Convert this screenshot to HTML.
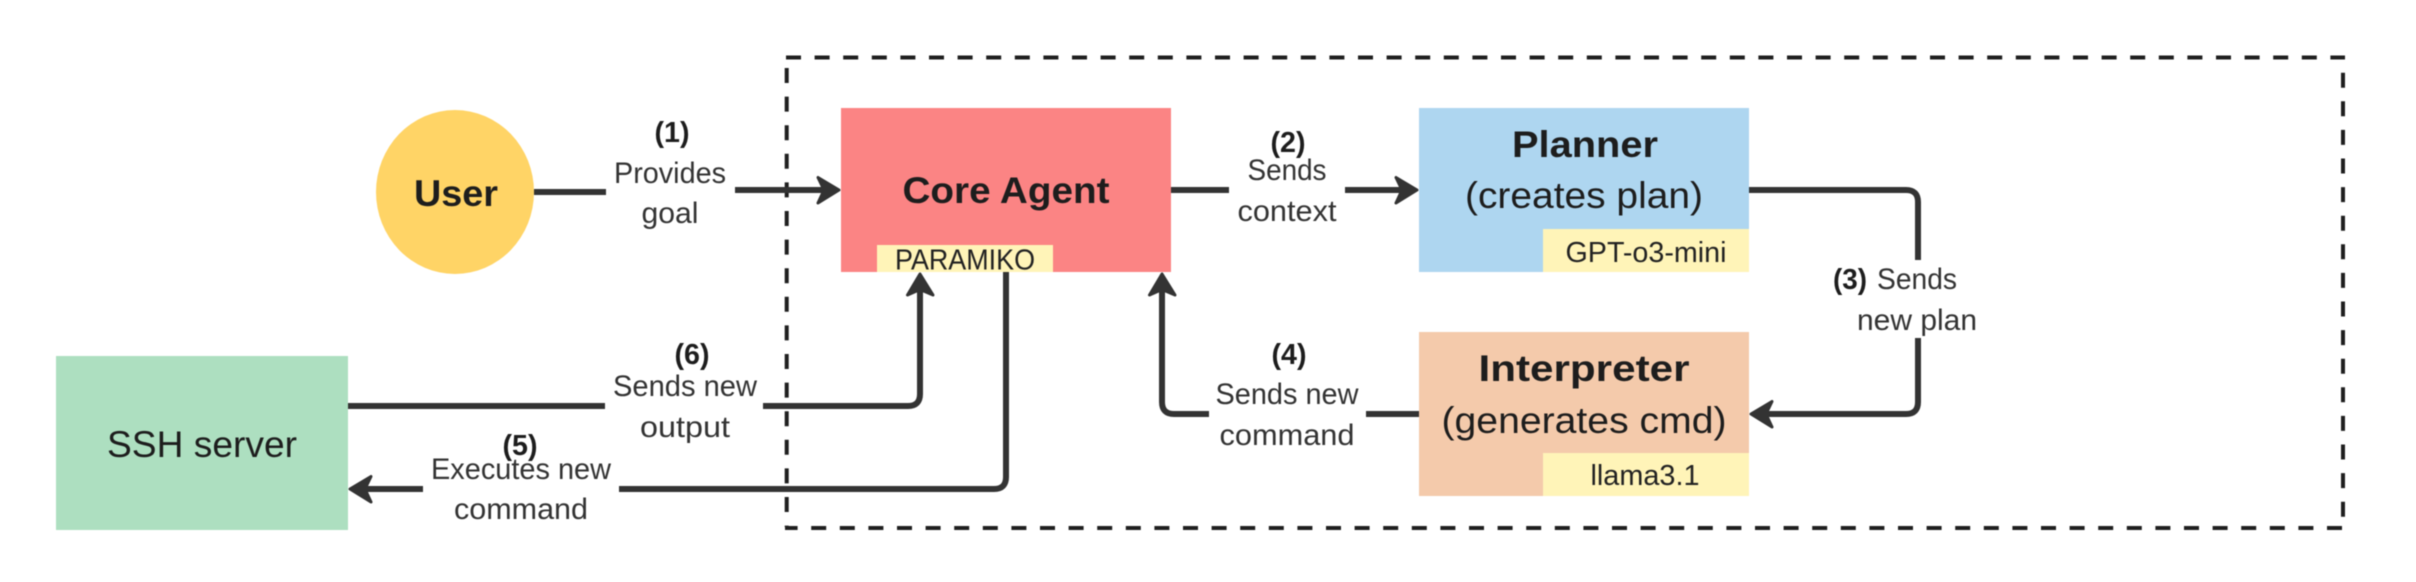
<!DOCTYPE html>
<html lang="en">
<head>
<meta charset="utf-8">
<title>Agent architecture diagram</title>
<style>
html,body{margin:0;padding:0;background:#fff;width:2416px;height:582px;overflow:hidden}
svg{display:block;filter:blur(0.5px)}
text{font-family:"Liberation Sans",sans-serif;text-anchor:middle;fill:#222}
.t{font-size:37px;fill:#1d1d1d}
.b{font-weight:bold}
.l{font-size:29.500px;fill:#333}
.n{font-size:29px;font-weight:bold;fill:#1d1d1d}
.s{font-size:29px;fill:#222}
.c{fill:none;stroke:#333;stroke-width:6;stroke-linejoin:round}
.a{fill:#333;stroke:#333;stroke-width:3;stroke-linejoin:round}
.d{fill:none;stroke:#1f1f1f;stroke-width:4;stroke-dasharray:15 13.600}
</style>
</head>
<body>
<svg width="2416" height="582" viewBox="0 0 2416 582" xmlns="http://www.w3.org/2000/svg">
<rect width="2416" height="582" fill="#fff"/>

<!-- dashed boundary -->
<path class="d" d="M786 57.500H2345"/>
<path class="d" d="M2343 72.700V517"/>
<path class="d" d="M2342 528H785"/>
<path class="d" d="M786.700 68V527"/>

<!-- nodes -->
<ellipse cx="455" cy="192" rx="79" ry="82" fill="#ffd466"/>
<rect x="841" y="108" width="330" height="164" fill="#fb8484"/>
<rect x="877" y="245" width="176" height="27" fill="#fff4b8"/>
<rect x="1419" y="108" width="330" height="164" fill="#aed6f0"/>
<rect x="1543" y="229" width="206" height="43" fill="#fff4b8"/>
<rect x="1419" y="332" width="330" height="164" fill="#f4caab"/>
<rect x="1543" y="453" width="206" height="43" fill="#fff4b8"/>
<rect x="56" y="356" width="292" height="174" fill="#addfc0"/>

<!-- connectors -->
<path class="c" d="M534 192H606"/>
<path class="c" d="M735 190H825"/>
<path class="a" d="M839 190L818 177.500L824 190L818 203Z"/>
<path class="c" d="M1171 190H1229"/>
<path class="c" d="M1345 190H1405"/>
<path class="a" d="M1417 190L1396 177.500L1402 190L1396 203Z"/>
<path class="c" d="M1749 190H1906Q1918 190 1918 202V260"/>
<path class="c" d="M1918 338V402Q1918 414 1906 414H1765"/>
<path class="a" d="M1751 414L1772 401.500L1766 414L1772 427Z"/>
<path class="c" d="M1419 414H1366"/>
<path class="c" d="M1209 414H1174Q1162 414 1162 402V288"/>
<path class="a" d="M1162 274L1149.500 295L1162 289.500L1175 295Z"/>
<path class="c" d="M348 406H605"/>
<path class="c" d="M763 406H908Q920 406 920 394V288"/>
<path class="a" d="M920 274L907.500 295L920 289.500L933 295Z"/>
<path class="c" d="M1006 272V477Q1006 489 994 489H619"/>
<path class="c" d="M423 489H362"/>
<path class="a" d="M350 489L371 476.500L365 489L371 502Z"/>

<!-- node text -->
<text class="t b" x="456" y="206" textLength="84" lengthAdjust="spacingAndGlyphs">User</text>
<text class="t b" x="1006" y="203" textLength="207" lengthAdjust="spacingAndGlyphs">Core Agent</text>
<text class="s" x="965" y="269.500" textLength="140" lengthAdjust="spacingAndGlyphs">PARAMIKO</text>
<text class="t b" x="1585" y="157" textLength="146" lengthAdjust="spacingAndGlyphs">Planner</text>
<text class="t" x="1584" y="208" textLength="238" lengthAdjust="spacingAndGlyphs">(creates plan)</text>
<text class="s" x="1646" y="262" textLength="161" lengthAdjust="spacingAndGlyphs">GPT-o3-mini</text>
<text class="t b" x="1584" y="381" textLength="211" lengthAdjust="spacingAndGlyphs">Interpreter</text>
<text class="t" x="1584" y="433" textLength="285" lengthAdjust="spacingAndGlyphs">(generates cmd)</text>
<text class="s" x="1645" y="485" textLength="109" lengthAdjust="spacingAndGlyphs">llama3.1</text>
<text class="t" x="202" y="457" textLength="190" lengthAdjust="spacingAndGlyphs">SSH server</text>

<!-- connector labels -->
<text class="n" x="672" y="142" textLength="35" lengthAdjust="spacingAndGlyphs">(1)</text>
<text class="l" x="670" y="183" textLength="112" lengthAdjust="spacingAndGlyphs">Provides</text>
<text class="l" x="670" y="223" textLength="57" lengthAdjust="spacingAndGlyphs">goal</text>

<text class="n" x="1288" y="152" textLength="35" lengthAdjust="spacingAndGlyphs">(2)</text>
<text class="l" x="1287" y="180" textLength="79" lengthAdjust="spacingAndGlyphs">Sends</text>
<text class="l" x="1287" y="221" textLength="99" lengthAdjust="spacingAndGlyphs">context</text>

<text class="n" x="1850" y="289" textLength="34" lengthAdjust="spacingAndGlyphs">(3)</text>
<text class="l" x="1917" y="289" textLength="80" lengthAdjust="spacingAndGlyphs">Sends</text>
<text class="l" x="1917" y="330" textLength="120" lengthAdjust="spacingAndGlyphs">new plan</text>

<text class="n" x="1289" y="364" textLength="35" lengthAdjust="spacingAndGlyphs">(4)</text>
<text class="l" x="1287" y="404" textLength="143" lengthAdjust="spacingAndGlyphs">Sends new</text>
<text class="l" x="1287" y="445" textLength="135" lengthAdjust="spacingAndGlyphs">command</text>

<text class="n" x="520" y="455" textLength="35" lengthAdjust="spacingAndGlyphs">(5)</text>
<text class="l" x="521" y="479" textLength="180" lengthAdjust="spacingAndGlyphs">Executes new</text>
<text class="l" x="521" y="519" textLength="134" lengthAdjust="spacingAndGlyphs">command</text>

<text class="n" x="692" y="364" textLength="35" lengthAdjust="spacingAndGlyphs">(6)</text>
<text class="l" x="685" y="396" textLength="144" lengthAdjust="spacingAndGlyphs">Sends new</text>
<text class="l" x="685" y="437" textLength="90" lengthAdjust="spacingAndGlyphs">output</text>
</svg>
</body>
</html>
